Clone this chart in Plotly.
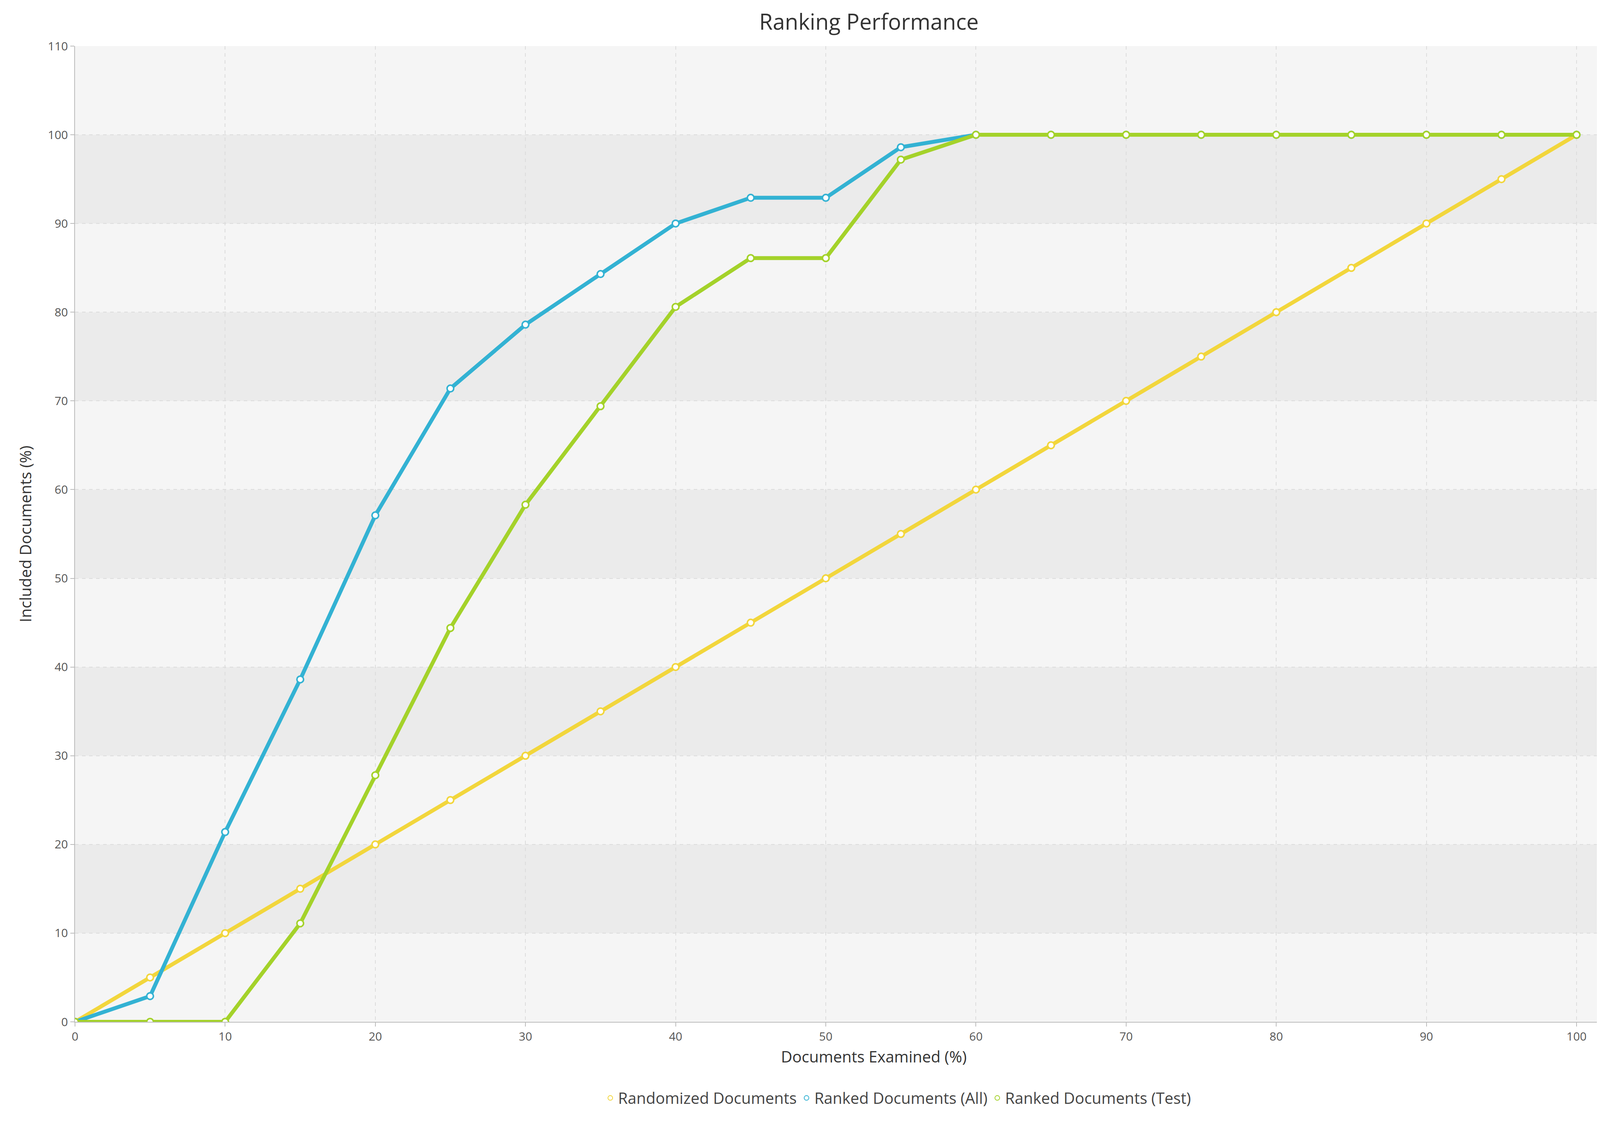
import plotly.graph_objects as go

x = [0, 5, 10, 15, 20, 25, 30, 35, 40, 45, 50, 55, 60, 65, 70, 75, 80, 85, 90, 95, 100]
randomized = [0, 5, 10, 15, 20, 25, 30, 35, 40, 45, 50, 55, 60, 65, 70, 75, 80, 85, 90, 95, 100]
ranked_all = [0, 2.9, 21.4, 38.6, 57.1, 71.4, 78.6, 84.3, 90.0, 92.9, 92.9, 98.6, 100, 100, 100, 100, 100, 100, 100, 100, 100]
ranked_test = [0, 0, 0, 11.1, 27.8, 44.4, 58.3, 69.4, 80.6, 86.1, 86.1, 97.2, 100, 100, 100, 100, 100, 100, 100, 100, 100]
names = ["Randomized Documents", "Ranked Documents (All)", "Ranked Documents (Test)"]
colors = ["#f2d63c", "#33b2d3", "#a4d22a"]

fig = go.Figure()
for name, ys, c in zip(names, [randomized, ranked_all, ranked_test], colors):
    fig.add_trace(go.Scatter(x=x, y=ys, name=name, mode="lines+markers", showlegend=False,
                             line=dict(color=c, width=10),
                             marker=dict(size=17, color="white", line=dict(color=c, width=4))))
for name, c in zip(names, colors):
    fig.add_trace(go.Scatter(x=[None], y=[None], name=name, mode="markers",
                             marker=dict(size=17, color="white", line=dict(color=c, width=4))))

shapes = []
for i in range(11):
    shapes.append(dict(type="rect", xref="paper", yref="y", x0=0, x1=1, y0=i*10, y1=i*10+10,
                       fillcolor="#ebebeb" if i % 2 == 1 else "#f5f5f5", line_width=0, layer="below"))

axis_common = dict(showgrid=True, gridcolor="#dcdcdc", griddash="dash", gridwidth=2,
                   tickfont=dict(size=30, color="#555"), zeroline=False,
                   showline=True, linecolor="#bbb", linewidth=2, ticks="outside",
                   tickcolor="#bbb", ticklen=10, tickwidth=2, autorange=False)
fig.update_layout(
    width=4304, height=2875, paper_bgcolor="white", plot_bgcolor="#f5f5f5",
    font=dict(family="Open Sans", color="#333"),
    title=dict(text="Ranking Performance", x=0.515, xanchor="center", y=0.99, yanchor="top",
               font=dict(size=56, color="#333")),
    margin=dict(l=184, r=30, t=110, b=267),
    shapes=shapes,
    xaxis=dict(range=[0, 106.4], dtick=10, title=dict(text="Documents Examined (%)", font=dict(size=40), standoff=20), **axis_common),
    yaxis=dict(range=[0, 110], dtick=10, title=dict(text="Included Documents (%)", font=dict(size=40), standoff=30), **axis_common),
    legend=dict(orientation="h", x=0.515, xanchor="center", y=-0.065, yanchor="top",
                font=dict(size=40, color="#444"), itemsizing="constant"),
)
fig.write_html("out.html")
